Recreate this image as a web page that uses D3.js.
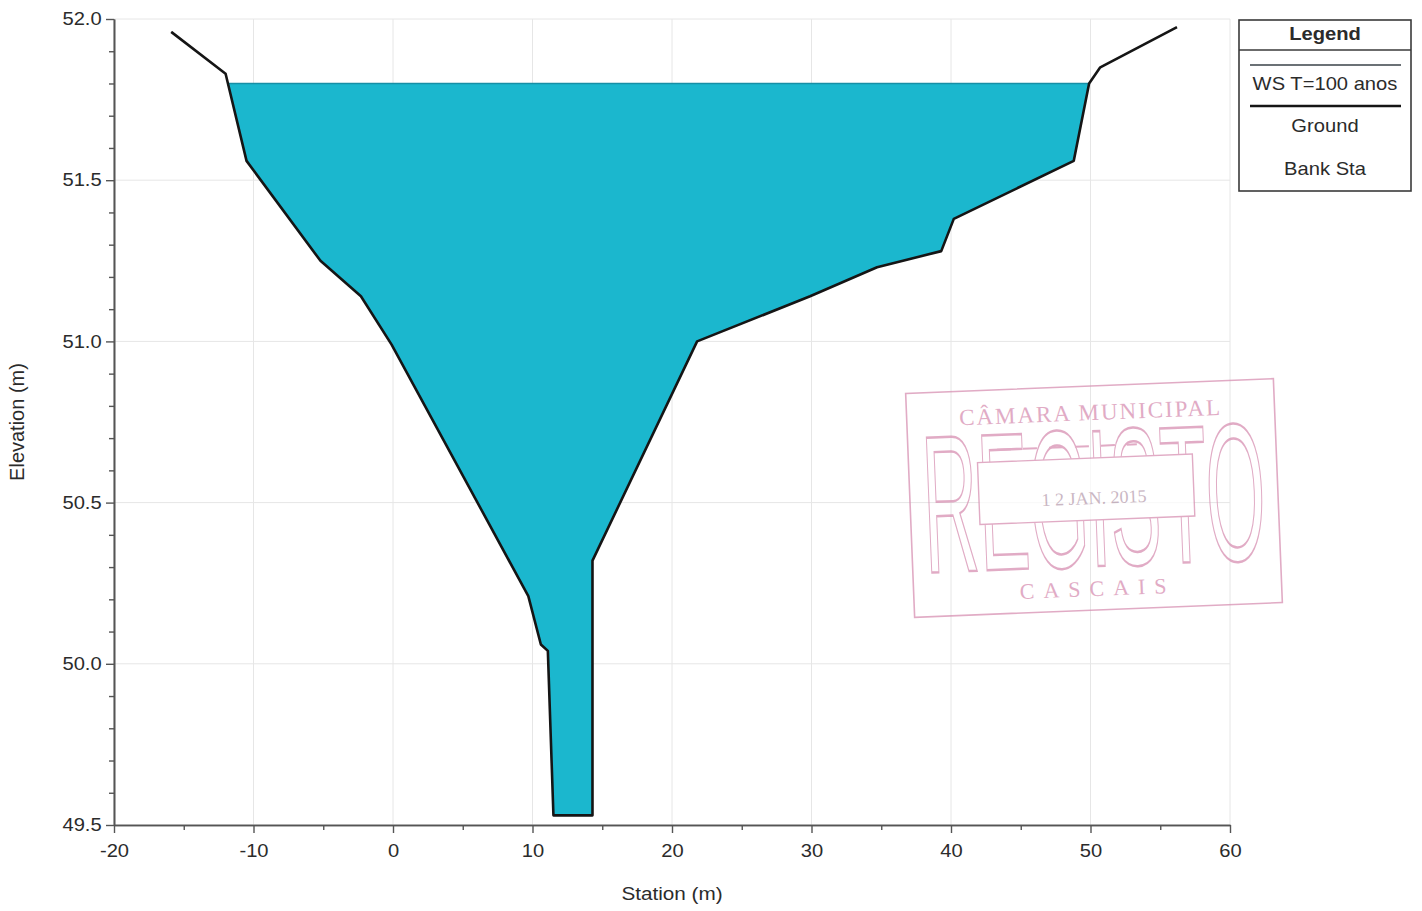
<!DOCTYPE html>
<html>
<head>
<meta charset="utf-8">
<script src="https://cdn.jsdelivr.net/npm/d3@7"></script>
<style>
body { margin: 0; background: #fff; }
text { font-family: "Liberation Sans", Arial, sans-serif; fill: #2b2b2b; }
</style>
</head>
<body>
<div class="chart"></div>
<script>
//Cross-section ground points (station m, elevation m)
var station = [-15.9, -12.0, -10.5, -5.2, -2.3, -0.1, 9.7, 10.6, 11.1, 11.5, 14.3, 14.3, 21.8, 29.9, 34.7, 39.3, 40.2, 48.8, 49.9, 50.7, 56.2];
var elevation = [51.96, 51.83, 51.56, 51.25, 51.14, 50.99, 50.21, 50.06, 50.04, 49.53, 49.53, 50.32, 51.0, 51.14, 51.23, 51.28, 51.38, 51.56, 51.80, 51.85, 51.975];

//Water surface
var wsElevation = 51.80;

//Ticks and legend
var xTicks = [-20, -10, 0, 10, 20, 30, 40, 50, 60];
var xMinorTicks = [-15, -5, 5, 15, 25, 35, 45, 55];
var yTicks = [49.5, 50.0, 50.5, 51.0, 51.5, 52.0];
var yMinorTicks = [49.6, 49.7, 49.8, 49.9, 50.1, 50.2, 50.3, 50.4, 50.6, 50.7, 50.8, 50.9, 51.1, 51.2, 51.3, 51.4, 51.6, 51.7, 51.8, 51.9];
var legendItems = ["WS T=100 anos", "Ground", "Bank Sta"];

//Width and height
var w = 1422;
var h = 911;
var margin = { left: 114, right: 192, top: 19, bottom: 86 };
var stretch = 1.12;

var svg = d3.select(".chart")
    .append("svg")
    .attr("width", w)
    .attr("height", h);

svg.append("rect").attr("width", w).attr("height", h).attr("fill", "#fff");

var xScale = d3.scaleLinear()
    .domain([-20, 60])
    .range([margin.left, w - margin.right]);

var yScale = d3.scaleLinear()
    .domain([49.5, 52])
    .range([h - margin.bottom, margin.top]);

//Grid
svg.append("g").selectAll("line")
    .data(xTicks)
    .enter()
    .append("line")
    .attr("x1", d => xScale(d)).attr("x2", d => xScale(d))
    .attr("y1", yScale(52)).attr("y2", yScale(49.5))
    .attr("stroke", "#e6e6e6");
svg.append("g").selectAll("line")
    .data(yTicks)
    .enter()
    .append("line")
    .attr("y1", d => yScale(d)).attr("y2", d => yScale(d))
    .attr("x1", xScale(-20)).attr("x2", xScale(60))
    .attr("stroke", "#e6e6e6");

//Stamp (scanned registration mark)
var stamp = svg.append("g")
    .attr("transform", "translate(1094,498) rotate(-2.3)")
    .attr("opacity", 0.75);
var pink = "#d790b2";
stamp.append("rect")
    .attr("x", -184).attr("y", -112).attr("width", 368).attr("height", 224)
    .attr("fill", "none").attr("stroke", pink).attr("stroke-width", 1.6);
stamp.append("text")
    .attr("transform", "translate(0,0) scale(0.39,1)")
    .attr("y", 68)
    .attr("text-anchor", "middle")
    .style("font-size", "196px")
    .style("fill", "none")
    .attr("stroke", pink)
    .attr("stroke-width", 2.5)
    .text("REGISTO");
stamp.append("rect")
    .attr("x", -115).attr("y", -40).attr("width", 215).attr("height", 62)
    .attr("fill", "#fff").attr("stroke", pink).attr("stroke-width", 1.4);
stamp.append("text")
    .attr("y", -78)
    .attr("text-anchor", "middle")
    .style("font-family", "Liberation Serif, serif")
    .style("font-size", "23px")
    .style("letter-spacing", "2px")
    .style("fill", pink)
    .text("CÂMARA MUNICIPAL");
stamp.append("line")
    .attr("x1", -95).attr("x2", 45).attr("y1", -52).attr("y2", -52)
    .attr("stroke", pink).attr("stroke-width", 2)
    .attr("stroke-dasharray", "14 12");
stamp.append("text")
    .attr("y", 6)
    .attr("text-anchor", "middle")
    .style("font-family", "Liberation Serif, serif")
    .style("font-size", "18px")
    .style("fill", "#b9a0b0")
    .text("1 2 JAN. 2015");
stamp.append("text")
    .attr("y", 98)
    .attr("text-anchor", "middle")
    .style("font-family", "Liberation Serif, serif")
    .style("font-size", "22px")
    .style("letter-spacing", "9px")
    .style("fill", pink)
    .text("CASCAIS");

//Wetted area below the water surface
var wet = [];
for (var i = 0; i < station.length; i++) {
    if (i > 0) {
        var z0 = elevation[i - 1], z1 = elevation[i];
        if ((z0 - wsElevation) * (z1 - wsElevation) < 0) {
            var t = (wsElevation - z0) / (z1 - z0);
            wet.push([station[i - 1] + t * (station[i] - station[i - 1]), wsElevation]);
        }
    }
    if (elevation[i] <= wsElevation) wet.push([station[i], elevation[i]]);
}

var line = d3.line()
    .x(d => xScale(d[0]))
    .y(d => yScale(d[1]));

svg.append("path")
    .attr("d", line(wet) + "Z")
    .attr("fill", "#1bb7ce");

svg.append("line")
    .attr("x1", xScale(wet[0][0])).attr("x2", xScale(wet[wet.length - 1][0]))
    .attr("y1", yScale(wsElevation)).attr("y2", yScale(wsElevation))
    .attr("stroke", "#178fa6")
    .attr("stroke-width", 1.5);

//Ground line
svg.append("path")
    .datum(station.map((s, i) => [s, elevation[i]]))
    .attr("d", line)
    .attr("fill", "none")
    .attr("stroke", "#151515")
    .attr("stroke-width", 2.6)
    .attr("stroke-linejoin", "round");

//Axes
function styleAxis(g) {
    g.select(".domain").attr("stroke", "#555").attr("stroke-width", 1.6);
    g.selectAll(".tick line").attr("stroke", "#555").attr("stroke-width", 1.4);
    g.selectAll("text")
        .style("font-size", "18px")
        .style("fill", "#2b2b2b")
        .attr("transform", "scale(" + stretch + ",1)");
}

svg.append("g")
    .attr("transform", "translate(0," + yScale(49.5) + ")")
    .call(d3.axisBottom(xScale).tickValues(xMinorTicks).tickSize(5).tickSizeOuter(0).tickFormat(""))
    .call(styleAxis);
svg.append("g")
    .attr("transform", "translate(0," + yScale(49.5) + ")")
    .call(d3.axisBottom(xScale).tickValues(xTicks).tickSize(8).tickSizeOuter(0).tickPadding(11).tickFormat(d => String(d)))
    .call(styleAxis);

svg.append("g")
    .attr("transform", "translate(" + xScale(-20) + ",0)")
    .call(d3.axisLeft(yScale).tickValues(yMinorTicks).tickSize(5).tickSizeOuter(0).tickFormat(""))
    .call(styleAxis);
svg.append("g")
    .attr("transform", "translate(" + xScale(-20) + ",0)")
    .call(d3.axisLeft(yScale).tickValues(yTicks).tickSize(8).tickSizeOuter(0).tickPadding(3).tickFormat(d => d.toFixed(1)))
    .call(styleAxis);

//Axis titles
svg.append("text")
    .attr("transform", "translate(" + xScale(20) + ",900) scale(" + stretch + ",1)")
    .attr("text-anchor", "middle")
    .style("font-size", "18.5px")
    .text("Station (m)");
svg.append("text")
    .attr("transform", "translate(24,422) rotate(-90)")
    .attr("text-anchor", "middle")
    .style("font-size", "20px")
    .text("Elevation (m)");

//Legend
var lx = 1239, ly = 20, lw = 172, lh = 171;
var legend = svg.append("g");
legend.append("rect")
    .attr("x", lx).attr("y", ly).attr("width", lw).attr("height", lh)
    .attr("fill", "#fff").attr("stroke", "#3a3a3a").attr("stroke-width", 1.6);
legend.append("line")
    .attr("x1", lx).attr("x2", lx + lw).attr("y1", 50).attr("y2", 50)
    .attr("stroke", "#3a3a3a").attr("stroke-width", 1.6);
legend.append("text")
    .attr("transform", "translate(" + (lx + lw / 2) + ",40) scale(" + stretch + ",1)")
    .attr("text-anchor", "middle")
    .style("font-size", "18px")
    .style("font-weight", "bold")
    .text("Legend");

var rowY = [83, 125, 168];
legend.selectAll(".item")
    .data(legendItems)
    .enter()
    .append("text")
    .attr("class", "item")
    .attr("transform", (d, i) => "translate(" + (lx + lw / 2) + "," + (rowY[i] + 6.5) + ") scale(" + stretch + ",1)")
    .attr("text-anchor", "middle")
    .style("font-size", "18px")
    .text(d => d);

legend.append("line")
    .attr("x1", lx + 11).attr("x2", lx + lw - 10).attr("y1", 65).attr("y2", 65)
    .attr("stroke", "#3a4248").attr("stroke-width", 1.5);
legend.append("line")
    .attr("x1", lx + 11).attr("x2", lx + lw - 10).attr("y1", 106).attr("y2", 106)
    .attr("stroke", "#151515").attr("stroke-width", 2.6);
</script>
</body>
</html>
